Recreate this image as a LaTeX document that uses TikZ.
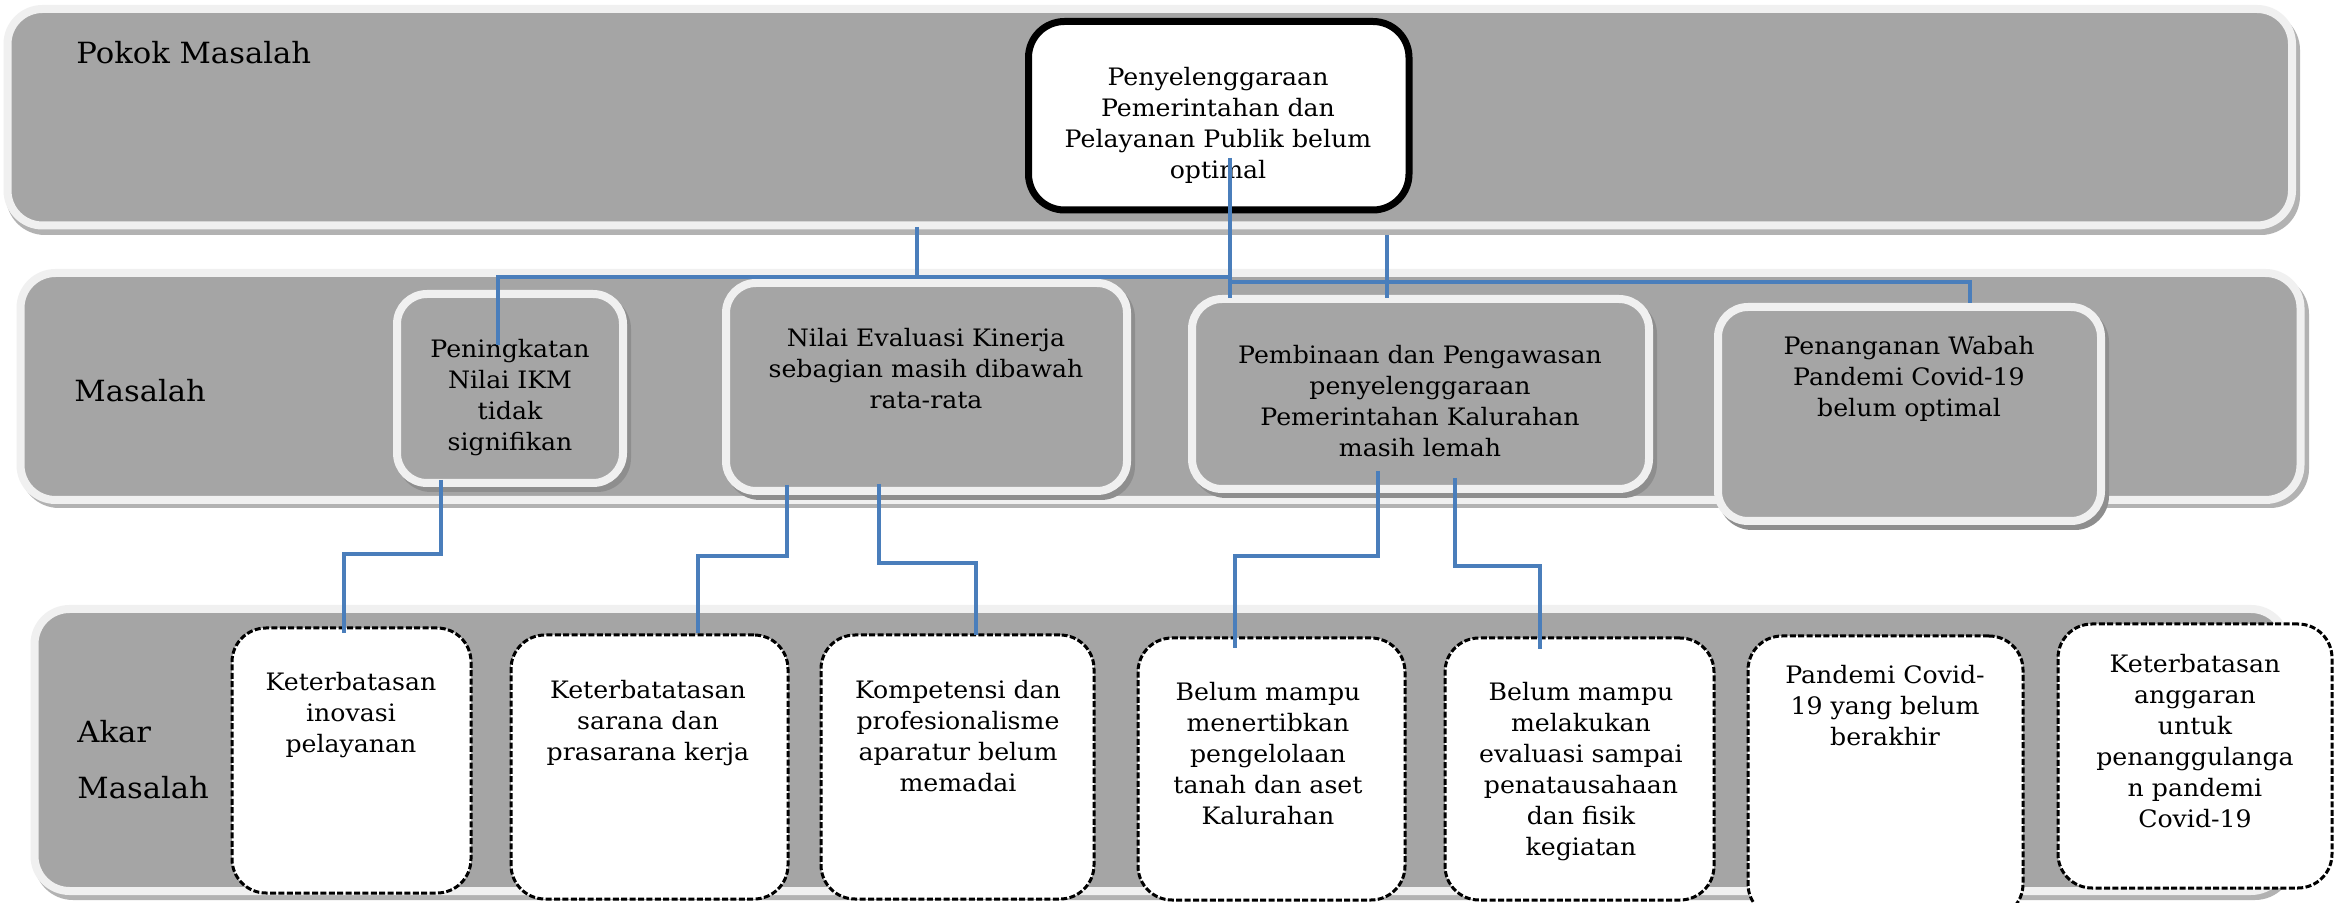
\documentclass[tikz,border=0pt]{standalone}
\usepackage{fontspec}
\setmainfont{DejaVu Serif}[FakeStretch=1.05]
\usetikzlibrary{fit}
\definecolor{bandgray}{HTML}{A5A5A5}
\definecolor{rimlight}{HTML}{F0F0F0}
\definecolor{bandshadow}{HTML}{B2B2B2}
\definecolor{boxshadow}{HTML}{8E8E8E}
\definecolor{linkblue}{HTML}{4A7EBB}
\tikzset{
  band/.style={draw=rimlight, fill=bandgray, line width=4pt, rounded corners=17.5pt, inner sep=0pt},
  bandshade/.style={fill=bandshadow, rounded corners=19.5pt},
  mbox/.style={draw=rimlight, fill=bandgray, line width=4pt, rounded corners=15pt, inner sep=0pt},
  mshade/.style={fill=boxshadow, rounded corners=17pt},
  rootbox/.style={draw=black, fill=white, line width=3.5pt, rounded corners=18pt, inner sep=0pt},
  rbox/.style={draw=black, fill=white, line width=1.5pt, dash pattern=on 3pt off 1.2pt, rounded corners=17pt, inner sep=0pt},
  txt/.style={font=\fontsize{12}{15.5}\selectfont, align=center, inner sep=0pt, anchor=north},
  lbl/.style={font=\fontsize{14.6}{28}\selectfont, inner sep=0pt, anchor=base west},
  lbltwo/.style={font=\fontsize{14.6}{28}\selectfont, inner sep=0pt, align=left, anchor=north west},
  link/.style={draw=linkblue, line width=2pt},
}
\begin{document}
\begin{tikzpicture}[x=0.5pt, y=-0.5pt]
\useasboundingbox (0,0) rectangle (2342,903);
\fill[white] (0,0) rectangle (2342,903);

% bands
\fill[bandshade] (6,11) rectangle (2300,235);
\node[band, fit={(7.5,9) (2292,225.5)}] (bandTop) {};
\fill[bandshade] (20,275) rectangle (2309,508);
\node[band, fit={(20.5,273) (2300.5,500)}] (bandMid) {};
\fill[bandshade] (34,611) rectangle (2294,900);
\node[band, fit={(34.5,609) (2286,891)}] (bandLow) {};

% labels
\node[lbl] (lPokok) at (76,64) {Pokok Masalah};
\node[lbl] (lMasalah) at (74,402) {Masalah};
\node[lbltwo] (lAkar) at (77,720) {Akar\\Masalah};

% root problem
\node[rootbox, fit={(1028.5,21.5) (1409,210)}] (root) {};
\node[txt] (rootT) at (1218,67) {Penyelenggaraan\\Pemerintahan dan\\Pelayanan Publik belum\\optimal};

% problem boxes
\fill[mshade] (397,295) rectangle (631,492);
\node[mbox, fit={(397,294) (623,483)}] (pA) {};
\node[txt] (pAT) at (510,339) {Peningkatan\\Nilai IKM\\tidak\\signifikan};

\fill[mshade] (726,284) rectangle (1135,500);
\node[mbox, fit={(726,283) (1127,491)}] (pB) {};
\node[txt] (pBT) at (926,328) {Nilai Evaluasi Kinerja\\sebagian masih dibawah\\rata-rata};

\fill[mshade] (1192,300) rectangle (1657,498);
\node[mbox, fit={(1192,299) (1649,489)}] (pC) {};
\node[txt] (pCT) at (1420,345) {Pembinaan dan Pengawasan\\penyelenggaraan\\Pemerintahan Kalurahan\\masih lemah};

\fill[mshade] (1718,308) rectangle (2109,530);
\node[mbox, fit={(1718,307) (2101,521)}] (pD) {};
\node[txt] (pDT) at (1909,336) {Penanganan Wabah\\Pandemi Covid-19\\belum optimal};

% root causes
\node[rbox, fit={(232,628) (471,893)}] (k1) {};
\node[txt] (k1T) at (351,672) {Keterbatasan\\inovasi\\pelayanan};
\node[rbox, fit={(511,635) (788,899)}] (k2) {};
\node[txt] (k2T) at (648,680) {Keterbatatasan\\sarana dan\\prasarana kerja};
\node[rbox, fit={(821,635) (1094,899)}] (k3) {};
\node[txt] (k3T) at (958,680) {Kompetensi dan\\profesionalisme\\aparatur belum\\memadai};
\node[rbox, fit={(1138,638) (1405,900)}] (k4) {};
\node[txt] (k4T) at (1268,682) {Belum mampu\\menertibkan\\pengelolaan\\tanah dan aset\\Kalurahan};
\node[rbox, fit={(1445,638) (1714,900)}] (k5) {};
\node[txt] (k5T) at (1581,682) {Belum mampu\\melakukan\\evaluasi sampai\\penatausahaan\\dan fisik\\kegiatan};
\node[rbox, fit={(1748,636) (2023,918)}] (k6) {};
\node[txt] (k6T) at (1885,665) {Pandemi Covid-\\19 yang belum\\berakhir};
\node[rbox, fit={(2058,624) (2332,888)}] (k7) {};
\node[txt] (k7T) at (2195,654) {Keterbatasan\\anggaran\\untuk\\penanggulanga\\n pandemi\\Covid-19};

% connectors
\coordinate (rootStem) at (1230,158);
\coordinate (stemEnd) at (1230,298);
\coordinate (busL) at (1230,277);
\coordinate (busR) at (1230,282);
\coordinate (aIn) at (498,345);
\coordinate (dIn) at (1970,303);
\coordinate (stubATop) at (917,227);
\coordinate (stubABot) at (917,277);
\coordinate (stubBTop) at (1387,235);
\coordinate (stubBBot) at (1387,298);
\draw[link] (rootStem) -- (stemEnd);
\draw[link] (busL) -| (aIn);
\draw[link] (busR) -| (dIn);
\draw[link] (stubATop) -- (stubABot);
\draw[link] (stubBTop) -- (stubBBot);

\coordinate (aOut) at (441,480);
\coordinate (k1In) at (344,633);
\coordinate (bOutL) at (787,485);
\coordinate (k2In) at (698,633);
\coordinate (bOutR) at (879,484);
\coordinate (k3In) at (976,635);
\coordinate (cOutL) at (1378,471);
\coordinate (k4In) at (1235,648);
\coordinate (cOutR) at (1455,478);
\coordinate (k5In) at (1540,649);
\draw[link] (aOut) -- ++(0,74) -| (k1In);
\draw[link] (bOutL) -- ++(0,71) -| (k2In);
\draw[link] (bOutR) -- ++(0,79) -| (k3In);
\draw[link] (cOutL) -- ++(0,85) -| (k4In);
\draw[link] (cOutR) -- ++(0,88) -| (k5In);
\end{tikzpicture}
\end{document}
